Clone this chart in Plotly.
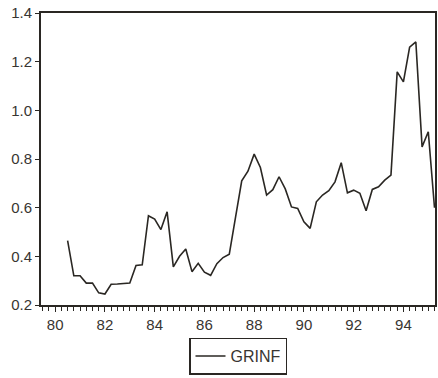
import plotly.graph_objects as go

# Quarterly observations starting 1980Q3 (x in two-digit year units)
start_year = 80
start_quarter = 3
grinf = [0.465, 0.32, 0.32, 0.29, 0.29, 0.25, 0.245, 0.285, 0.286, 0.288,
         0.29, 0.362, 0.365, 0.567, 0.553, 0.51, 0.583, 0.357, 0.40, 0.43,
         0.337, 0.371, 0.335, 0.322, 0.370, 0.395, 0.409, 0.56, 0.71, 0.75,
         0.82, 0.765, 0.652, 0.674, 0.727, 0.677, 0.603, 0.597, 0.542, 0.515,
         0.624, 0.652, 0.670, 0.706, 0.785, 0.661, 0.672, 0.659, 0.587, 0.675,
         0.686, 0.713, 0.734, 1.158, 1.117, 1.26, 1.281, 0.85, 0.912, 0.60]
x_tickvals = [80, 82, 84, 86, 88, 90, 92, 94]
x_ticktext = ["80", "82", "84", "86", "88", "90", "92", "94"]
y_tickvals = [0.2, 0.4, 0.6, 0.8, 1.0, 1.2, 1.4]
y_ticktext = ["0.2", "0.4", "0.6", "0.8", "1.0", "1.2", "1.4"]

x = [start_year + (start_quarter - 1) / 4 + i / 4 for i in range(len(grinf))]

ink = "#2a2723"
fig = go.Figure()
fig.add_trace(go.Scatter(x=x, y=grinf, mode="lines", name="GRINF",
                         line=dict(color=ink, width=1.6), cliponaxis=True))

fig.update_layout(
    width=438, height=378,
    margin=dict(l=41, r=1, t=13, b=73),
    paper_bgcolor="white", plot_bgcolor="white",
    font=dict(family="Liberation Sans, Arial, sans-serif", size=15, color="#383531"),
    showlegend=True,
    legend=dict(x=0.5, y=-0.175, xanchor="center", yanchor="middle",
                bordercolor=ink, borderwidth=1.5, bgcolor="white",
                font=dict(size=16, color="#383531"),
                itemwidth=30, tracegroupgap=0),
)
fig.update_xaxes(range=[79.43, 95.27], tickmode="array", tickvals=x_tickvals,
                 ticktext=x_ticktext, ticks="outside", ticklen=5, tickwidth=1.3,
                 tickcolor=ink, showgrid=False, zeroline=False,
                 showline=True, linecolor=ink, linewidth=2, mirror=True,
                 minor=dict(dtick=0.25, tick0=80, ticks="outside", ticklen=4,
                            tickwidth=1.2, tickcolor=ink, showgrid=False))
fig.update_yaxes(range=[0.2, 1.4], tickmode="array", tickvals=y_tickvals,
                 ticktext=y_ticktext, ticks="outside", ticklen=4, tickwidth=1.3,
                 tickcolor=ink, showgrid=False, zeroline=False,
                 showline=True, linecolor=ink, linewidth=2, mirror=True)

fig.write_html("out.html")
